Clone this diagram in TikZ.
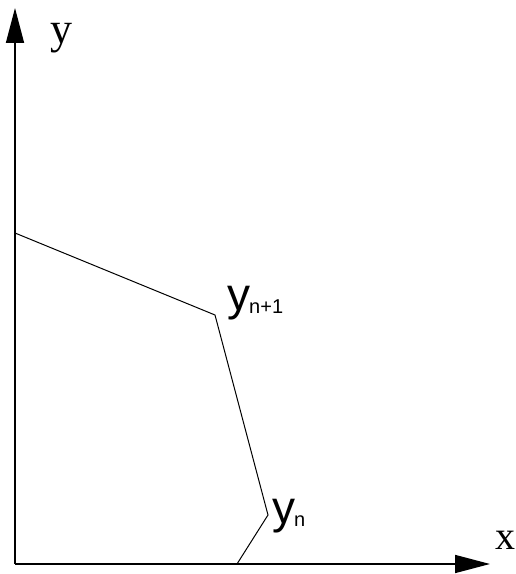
\documentclass[tikz,border=0pt]{standalone}
\usepackage{fontspec}
\setmainfont{Liberation Serif}
\newfontfamily\lsans{Liberation Sans}
\usetikzlibrary{arrows.meta}
\begin{document}
\begin{tikzpicture}[x=1pt,y=1pt,
  axis/.style={line width=1.6pt,-{Triangle[length=35pt,width=18pt]}},
  curve/.style={line width=1pt},
  axlabel/.style={inner sep=0pt,font=\fontsize{44}{44}\selectfont},
  ptlabel/.style={inner sep=0pt,anchor=base west,font=\lsans}]
\useasboundingbox (0,0) rectangle (516,574);
\coordinate (O) at (15,10);
\coordinate (Ytop) at (15,566);
\coordinate (Xend) at (490,10);
\coordinate (P1) at (15,341);
\coordinate (P2) at (215,259);
\coordinate (P3) at (268,59);
\coordinate (P4) at (237,10);
\draw[axis] (O) -- (Ytop);
\draw[axis] (O) -- (Xend);
\draw[curve] (P1) -- (P2) -- (P3) -- (P4);
\node[axlabel] (ylab) at (61,536) {y};
\node[axlabel,font=\fontsize{40}{40}\selectfont] (xlab) at (505,34) {x};
\node[ptlabel] (yn1) at (227,263) {{\fontsize{46}{46}\selectfont y}\kern-1pt\raisebox{-3pt}{\fontsize{20}{20}\selectfont n+1}};
\node[ptlabel] (yn) at (272,50) {{\fontsize{46}{46}\selectfont y}\kern-1pt\raisebox{-3pt}{\fontsize{20}{20}\selectfont n}};
\end{tikzpicture}
\end{document}
